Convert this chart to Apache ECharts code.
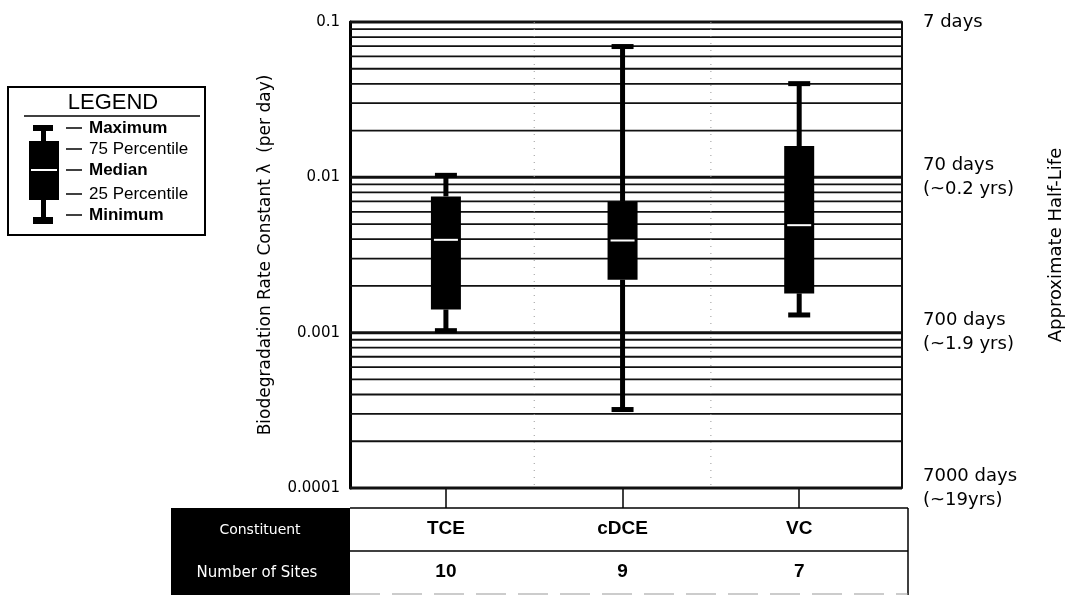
<!DOCTYPE html>
<html>
<head>
<meta charset="utf-8">
<script src="https://cdn.jsdelivr.net/npm/echarts/dist/echarts.min.js"></script>
<style>
  html, body { margin: 0; padding: 0; background: #fff; }
  #chart { width: 1066px; height: 595px; }
</style>
</head>
<body>
<div id="chart"></div>
<script>
// ---- data ----
const categories = ['TCE', 'cDCE', 'VC'];
const siteCounts = [10, 9, 7];
const minimum = [0.00103, 0.00032, 0.00130];
const q1      = [0.00141, 0.00219, 0.00179];
const median  = [0.00396, 0.00392, 0.00492];
const q3      = [0.00754, 0.00700, 0.01590];
const maximum = [0.01030, 0.06950, 0.04010];

const yTickLabels = ['0.0001', '0.001', '0.01', '0.1'];
const halfLifeLabels = ['7000 days\n(~19yrs)', '700 days\n(~1.9 yrs)', '70 days\n(~0.2 yrs)', '7 days'];
const gridDecades = [0.0001, 0.001, 0.01];
const gridMultipliers = [1, 2, 3, 4, 5, 6, 7, 8, 9];

const legendItems = ['Maximum', '75 Percentile', 'Median', '25 Percentile', 'Minimum'];
const tableHeaders = ['Constituent', 'Number of Sites'];

// gridline values (major = decade)
const gridValues = [];
gridDecades.forEach(d => gridMultipliers.forEach(m => gridValues.push([1, d * m, m === 1 ? 1 : 0])));
gridValues.push([1, 0.1, 1]);

const dividers = categories.slice(1).map((c, i) => [i + 1.5]);

const chart = echarts.init(document.getElementById('chart'));

function labelIndex(v) {
  return Math.round(Math.log10(v)) + 4;
}

const legendY = [128, 149, 170, 194, 215];
const legendGraphics = [
  { type: 'rect', shape: { x: 8, y: 87, width: 197, height: 148 }, style: { fill: 'none', stroke: '#000', lineWidth: 2 } },
  { type: 'text', x: 113, y: 103, style: { text: 'LEGEND', font: '22px "Liberation Sans", Arial, sans-serif', fill: '#000', textAlign: 'center', textVerticalAlign: 'middle' } },
  { type: 'line', shape: { x1: 24, y1: 116, x2: 200, y2: 116 }, style: { stroke: '#000', lineWidth: 1.5 } },
  // legend glyph
  { type: 'rect', shape: { x: 33, y: 125, width: 20, height: 6 }, style: { fill: '#000' } },
  { type: 'rect', shape: { x: 41, y: 130, width: 5, height: 12 }, style: { fill: '#000' } },
  { type: 'rect', shape: { x: 29, y: 141, width: 30, height: 59 }, style: { fill: '#000' } },
  { type: 'line', shape: { x1: 31, y1: 170, x2: 57, y2: 170 }, style: { stroke: '#fff', lineWidth: 2 } },
  { type: 'rect', shape: { x: 41, y: 199, width: 5, height: 19 }, style: { fill: '#000' } },
  { type: 'rect', shape: { x: 33, y: 217, width: 20, height: 7 }, style: { fill: '#000' } }
];
legendItems.forEach((t, i) => {
  legendGraphics.push({ type: 'line', shape: { x1: 66, y1: legendY[i], x2: 82, y2: legendY[i] }, style: { stroke: '#000', lineWidth: 1.5 } });
  const bold = (t === 'Median' || t === 'Maximum' || t === 'Minimum');
  legendGraphics.push({ type: 'text', x: 89, y: legendY[i], style: { text: t, font: (bold ? 'bold ' : '') + '17px "Liberation Sans", Arial, sans-serif', fill: '#000', textVerticalAlign: 'middle' } });
});

const tableGraphics = [
  { type: 'rect', shape: { x: 171, y: 508, width: 179, height: 87 }, style: { fill: '#000' } },
  { type: 'line', shape: { x1: 350, y1: 508, x2: 908, y2: 508 }, style: { stroke: '#000', lineWidth: 1.5 } },
  { type: 'line', shape: { x1: 350, y1: 551, x2: 908, y2: 551 }, style: { stroke: '#000', lineWidth: 1.5 } },
  { type: 'line', shape: { x1: 908, y1: 508, x2: 908, y2: 595 }, style: { stroke: '#000', lineWidth: 1.5 } },
  { type: 'line', shape: { x1: 350, y1: 594, x2: 908, y2: 594 }, style: { stroke: '#999', lineWidth: 1, lineDash: [30, 12] } },
  { type: 'text', x: 260, y: 530, style: { text: tableHeaders[0], font: '14px "DejaVu Sans", sans-serif', fill: '#fff', textAlign: 'center', textVerticalAlign: 'middle' } },
  { type: 'text', x: 257, y: 573, style: { text: tableHeaders[1], font: '15px "DejaVu Sans", sans-serif', fill: '#fff', textAlign: 'center', textVerticalAlign: 'middle' } }
];

const option = {
  backgroundColor: '#fff',
  animation: false,
  grid: { left: 350, top: 22, width: 552, height: 466, show: true, borderColor: '#000', borderWidth: 1.5, backgroundColor: 'transparent', containLabel: false, outerBoundsMode: 'none' },
  xAxis: {
    type: 'value', min: 0.457, max: 3.582,
    splitLine: { show: false },
    axisLine: { show: false },
    axisTick: { show: true, customValues: [1, 2, 3], length: 20, lineStyle: { color: '#000', width: 1.5 } },
    axisLabel: {
      show: true, customValues: [1, 2, 3], margin: 19,
      formatter: function (v) {
        const i = Math.round(v) - 1;
        return '{c|' + categories[i] + '}\n{n|' + siteCounts[i] + '}';
      },
      rich: {
        c: { fontFamily: '"Liberation Sans", Arial, sans-serif', fontWeight: 'bold', fontSize: 19, lineHeight: 43, color: '#000' },
        n: { fontFamily: '"Liberation Sans", Arial, sans-serif', fontWeight: 'bold', fontSize: 19, lineHeight: 43, color: '#000' }
      }
    }
  },
  yAxis: [
    {
      type: 'log', logBase: 10, min: 0.0001, max: 0.1, position: 'left',
      name: 'Biodegradation Rate Constant λ  (per day)',
      nameLocation: 'middle', nameGap: 76,
      nameTextStyle: { fontFamily: '"DejaVu Sans", sans-serif', fontSize: 17, color: '#000' },
      axisLine: { show: true, lineStyle: { color: '#000', width: 3 } },
      axisTick: { show: false },
      splitLine: { show: false },
      axisLabel: {
        margin: 10, fontFamily: '"DejaVu Sans", sans-serif', fontSize: 15, color: '#000',
        formatter: v => yTickLabels[labelIndex(v)]
      }
    },
    {
      type: 'log', logBase: 10, min: 0.0001, max: 0.1, position: 'right',
      name: 'Approximate Half-Life',
      nameLocation: 'middle', nameGap: 145, nameRotate: 90,
      nameTextStyle: { fontFamily: '"DejaVu Sans", sans-serif', fontSize: 18, color: '#000', padding: [0, 0, 0, 20] },
      axisLine: { show: true, lineStyle: { color: '#000', width: 1.5 } },
      axisTick: { show: false },
      splitLine: { show: false },
      axisLabel: {
        margin: 21, fontFamily: '"DejaVu Sans", sans-serif', fontSize: 18, color: '#000', lineHeight: 24,
        formatter: v => halfLifeLabels[labelIndex(v)]
      }
    }
  ],
  series: [
    {
      type: 'custom', name: 'grid', silent: true, z: 1,
      data: gridValues, encode: { x: 0, y: 1 },
      renderItem: function (params, api) {
        const y = api.coord([1, api.value(1)])[1];
        const cs = params.coordSys;
        const major = api.value(2) === 1;
        return { type: 'line', shape: { x1: cs.x, y1: y, x2: cs.x + cs.width, y2: y },
                 style: { stroke: '#111', lineWidth: major ? 3 : 1.8 } };
      }
    },
    {
      type: 'custom', name: 'dividers', silent: true, z: 1,
      data: dividers, encode: { x: 0 },
      renderItem: function (params, api) {
        const cs = params.coordSys;
        const x = api.coord([api.value(0), 0.01])[0];
        return { type: 'line', shape: { x1: x, y1: cs.y, x2: x, y2: cs.y + cs.height },
                 style: { stroke: '#999', lineWidth: 1, lineDash: [1, 6] } };
      }
    },
    {
      type: 'custom', name: 'boxes', z: 3,
      data: categories.map((c, i) => [i + 1, minimum[i], q1[i], median[i], q3[i], maximum[i]]),
      encode: { x: 0, y: [1, 2, 3, 4, 5] },
      renderItem: function (params, api) {
        const xv = api.value(0);
        const pMin = api.coord([xv, api.value(1)]);
        const pQ1 = api.coord([xv, api.value(2)]);
        const pMed = api.coord([xv, api.value(3)]);
        const pQ3 = api.coord([xv, api.value(4)]);
        const pMax = api.coord([xv, api.value(5)]);
        const cx = pMin[0];
        const boxW = 30, capW = 22, capH = 5, whW = 5;
        return {
          type: 'group',
          children: [
            { type: 'rect', shape: { x: cx - whW / 2, y: pMax[1], width: whW, height: pQ3[1] - pMax[1] }, style: { fill: '#000' } },
            { type: 'rect', shape: { x: cx - whW / 2, y: pQ1[1], width: whW, height: pMin[1] - pQ1[1] }, style: { fill: '#000' } },
            { type: 'rect', shape: { x: cx - capW / 2, y: pMax[1] - capH / 2, width: capW, height: capH }, style: { fill: '#000' } },
            { type: 'rect', shape: { x: cx - capW / 2, y: pMin[1] - capH / 2, width: capW, height: capH }, style: { fill: '#000' } },
            { type: 'rect', shape: { x: cx - boxW / 2, y: pQ3[1], width: boxW, height: pQ1[1] - pQ3[1] }, style: { fill: '#000' } },
            { type: 'line', shape: { x1: cx - boxW / 2 + 3, y1: pMed[1], x2: cx + boxW / 2 - 3, y2: pMed[1] }, style: { stroke: '#fff', lineWidth: 2 } }
          ]
        };
      }
    }
  ],
  graphic: legendGraphics.concat(tableGraphics)
};

chart.setOption(option);
</script>
</body>
</html>
